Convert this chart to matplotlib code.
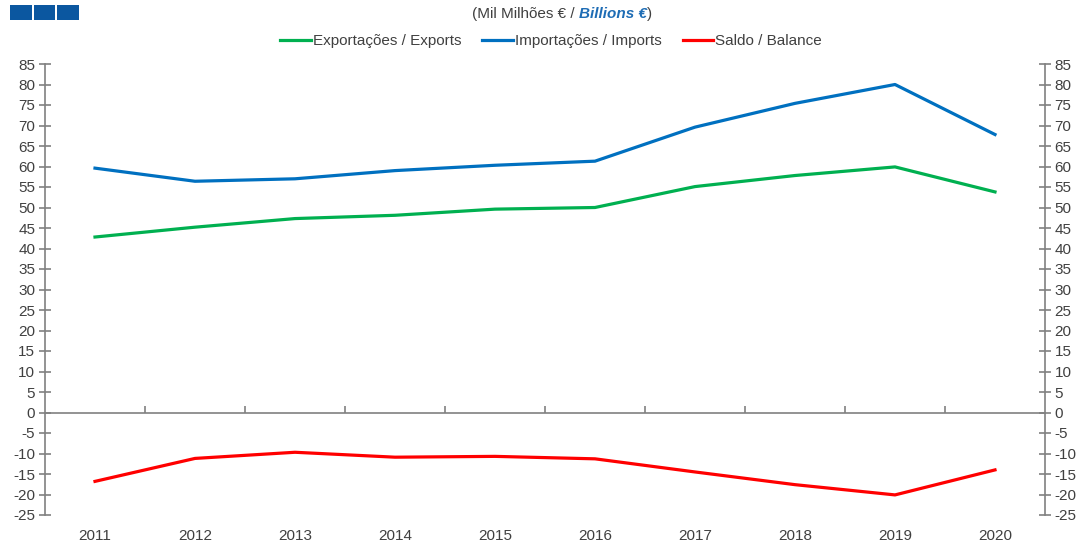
import matplotlib.pyplot as plt
from matplotlib.patches import Rectangle

years = ['2011', '2012', '2013', '2014', '2015', '2016', '2017', '2018', '2019', '2020']
exports = [42.8, 45.2, 47.3, 48.1, 49.6, 50.0, 55.1, 57.8, 59.9, 53.8]
imports = [59.6, 56.4, 57.0, 59.0, 60.3, 61.3, 69.6, 75.4, 80.0, 67.8]
balance = [-16.8, -11.2, -9.7, -10.9, -10.7, -11.3, -14.5, -17.6, -20.1, -14.0]
yticks = list(range(-25, 90, 5))

grey = '#808080'
txt = '#404040'
fs = 11
plt.rcParams['font.family'] = ['Liberation Sans', 'DejaVu Sans']

fig = plt.figure(figsize=(10.88, 5.45), dpi=100)
ax = fig.add_axes([45 / 1088, 1 - 515 / 545, 1000 / 1088, 451 / 545])

x = list(range(len(years)))
ax.plot(x, exports, color='#00b050', lw=2.3, label='Exportações / Exports')
ax.plot(x, imports, color='#0070c0', lw=2.3, label='Importações / Imports')
ax.plot(x, balance, color='#ff0000', lw=2.3, label='Saldo / Balance')

ax.set_xlim(-0.5, len(years) - 0.5)
ax.set_ylim(-25, 85)
ax.set_yticks(yticks)
ax.set_yticklabels([str(v) for v in yticks])
ax.set_xticks(x)
ax.set_xticklabels(years)

for s in ['top', 'bottom']:
    ax.spines[s].set_visible(False)
for s in ['left', 'right']:
    ax.spines[s].set_color(grey)
    ax.spines[s].set_linewidth(1.2)

ax.tick_params(axis='y', which='both', left=True, right=True, labelleft=True,
               labelright=True, direction='inout', length=8, color=grey,
               width=1.2, labelsize=fs, labelcolor=txt, pad=3)
ax.tick_params(axis='x', length=0, labelsize=fs, labelcolor=txt, pad=10)

# category axis drawn at zero
zx = ax.secondary_xaxis(25 / 110)
zx.spines['bottom'].set_color(grey)
zx.spines['bottom'].set_linewidth(1.2)
zx.set_xticks([i + 0.5 for i in x[:-1]])
zx.tick_params(direction='in', length=5, color=grey, width=1.2, labelbottom=False)

leg = fig.legend(loc='center', bbox_to_anchor=(551 / 1088, 1 - 41 / 545), ncol=3,
                 frameon=False, fontsize=fs, handlelength=2.0, handletextpad=0.1,
                 columnspacing=1.4)
for t in leg.get_texts():
    t.set_color(txt)

# subtitle with mixed styling
t1 = fig.text(472 / 1088, 1 - 14 / 545, '(Mil Milhões € / ', fontsize=fs,
              color=txt, va='center', ha='left')
t2 = ax.annotate('Billions €', xy=(1, 0), xycoords=t1, va='bottom', ha='left',
                 fontsize=fs, color='#1f6db5', fontweight='bold', style='italic',
                 annotation_clip=False)
ax.annotate(')', xy=(1, 0), xycoords=t2, va='bottom', ha='left', fontsize=fs,
            color=txt, annotation_clip=False)

# header blocks
for i in range(3):
    fig.add_artist(Rectangle(((10 + i * 23.5) / 1088, 1 - 20 / 545), 21.5 / 1088,
                             15 / 545, transform=fig.transFigure,
                             color='#0b57a0', lw=0))

fig.savefig('out.png', dpi=100)
